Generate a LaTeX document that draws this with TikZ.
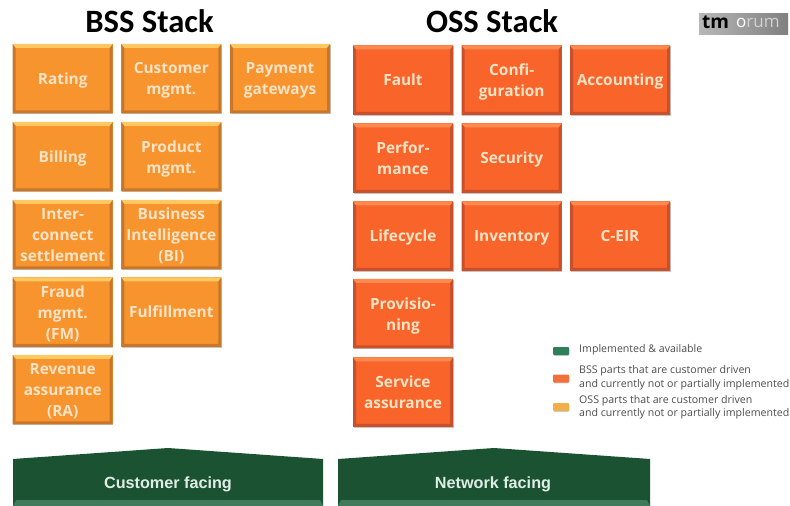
\documentclass[tikz,border=0pt]{standalone}
\usepackage{fontspec}
\setmainfont{Open Sans}
\newfontfamily\titlefont{Carlito}
\newfontfamily\facefont{Liberation Sans}
\usetikzlibrary{shadows}
\definecolor{bssfill}{HTML}{F7942E}
\definecolor{bsstop}{HTML}{FFC860}
\definecolor{bssside}{HTML}{C9762A}
\definecolor{ossfill}{HTML}{F9642A}
\definecolor{osstop}{HTML}{FF8A50}
\definecolor{ossside}{HTML}{C9502A}
\definecolor{facefill}{HTML}{1A5232}
\definecolor{faceband}{HTML}{3F7A5C}
\definecolor{boxtext}{HTML}{FCE3C5}
\definecolor{facetext}{HTML}{E0EDE5}
\definecolor{keygreenfill}{HTML}{2E7D5B}
\definecolor{keyredfill}{HTML}{F4703A}
\definecolor{keyorangefill}{HTML}{EFB04C}
\newcommand{\lowline}[1]{\raisebox{-2.3pt}[\height][\depth]{#1}}
\tikzset{
    stackbox/.style n args={3}{minimum width=100pt, minimum height=69.5pt, inner sep=0pt,
        fill=#1, align=center, text=boxtext,
        font=\fontsize{15.4}{21}\selectfont\bfseries,
        execute at begin node={\rule{0pt}{15.5pt}},
        execute at end node={\rule[-4pt]{0pt}{4pt}},
        drop shadow={shadow xshift=0.6pt, shadow yshift=-1pt, opacity=0.45},
        path picture={
            \fill[#3] (path picture bounding box.north west) -- (path picture bounding box.south west)
                -- ++(3pt,3pt) |- ([shift={(3pt,-4pt)}]path picture bounding box.north west) -- cycle;
            \fill[#3] (path picture bounding box.north east) -- (path picture bounding box.south east)
                -- ++(-3pt,3pt) |- ([shift={(-3pt,-4pt)}]path picture bounding box.north east) -- cycle;
            \fill[#3] (path picture bounding box.south west) -- ++(3pt,3pt) -| ([shift={(-3pt,3pt)}]path picture bounding box.south east)
                -- (path picture bounding box.south east) -- cycle;
            \fill[#2] (path picture bounding box.north west) -- ([shift={(3pt,-4pt)}]path picture bounding box.north west)
                -- ([shift={(-3pt,-4pt)}]path picture bounding box.north east) -- (path picture bounding box.north east) -- cycle;
        }},
    bssbox/.style={stackbox={bssfill}{bsstop}{bssside}},
    ossbox/.style={stackbox={ossfill}{osstop}{ossside}},
    stacktitle/.style={font=\titlefont\fontsize{32.6}{32.6}\selectfont\bfseries},
    facehouse/.style={fill=facefill},
    facelabel/.style={text=facetext, font=\facefont\fontsize{16.2}{18}\selectfont\bfseries},
    legendkey/.style={minimum width=16pt, minimum height=8pt, inner sep=0pt, rounded corners=1pt,
        drop shadow={shadow xshift=0.4pt, shadow yshift=-0.8pt, opacity=0.4}},
    legendtext/.style={anchor=west, inner sep=0pt, align=left, text=black!70,
        font=\fontsize{10.6}{13.5}\selectfont}
}
\begin{document}
\begin{tikzpicture}[x=1pt, y=-1pt]
    \useasboundingbox (0,0) rectangle (790,506);
    % Titles of the two stacks
    \node[stacktitle] (bsstitle) at (149.5,21) {BSS Stack};
    \node[stacktitle] (osstitle) at (492,21) {OSS Stack};

    % Draw the logo
    \node[left color=black!28, right color=black!50, minimum width=89pt, minimum height=21pt, inner sep=0pt] (logobar) at (743.5,24) {};
    \node[anchor=west, inner sep=0pt, font=\fontsize{19}{19}\selectfont\bfseries] (logotm) at (702,22.5) {tm};
    \node[anchor=west, inner sep=0pt, text=black!18, font=\fontsize{17}{17}\selectfont] (logorum) at (736,22.5) {\textcolor{white}{o}rum};

    % Draw the BSS boxes
    \node[bssbox] (rating) at (62.7,78.5) {Rating};
    \node[bssbox] (customer) at (171.3,78.5) {\lowline{Customer}\\\lowline{mgmt.}};
    \node[bssbox] (payment) at (280,78.5) {\lowline{Payment}\\\lowline{gateways}};
    \node[bssbox] (billing) at (62.7,156.5) {Billing};
    \node[bssbox] (product) at (171.3,156.5) {\lowline{Product}\\\lowline{mgmt.}};
    \node[bssbox] (settlement) at (62.7,234.5) {\lowline{Inter-}\\\lowline{connect}\\\lowline{settlement}};
    \node[bssbox] (intelligence) at (171.3,234.5) {\lowline{Business}\\\lowline{Intelligence}\\\lowline{(BI)}};
    \node[bssbox] (fraud) at (62.7,312) {\lowline{Fraud}\\\lowline{mgmt.}\\\lowline{(FM)}};
    \node[bssbox] (fulfillment) at (171.3,312) {Fulfillment};
    \node[bssbox] (revenue) at (62.7,389.5) {\lowline{Revenue}\\\lowline{assurance}\\\lowline{(RA)}};

    % Draw the OSS boxes
    \node[ossbox] (fault) at (403,80) {Fault};
    \node[ossbox] (configuration) at (511.7,80) {\lowline{Confi-}\\\lowline{guration}};
    \node[ossbox] (accounting) at (620,80) {Accounting};
    \node[ossbox] (performance) at (403,158) {\lowline{Perfor-}\\\lowline{mance}};
    \node[ossbox] (security) at (511.7,158) {Security};
    \node[ossbox] (lifecycle) at (403,236) {Lifecycle};
    \node[ossbox] (inventory) at (511.7,236) {Inventory};
    \node[ossbox] (ceir) at (620,236) {C-EIR};
    \node[ossbox] (provisioning) at (403,313.5) {\lowline{Provisio-}\\\lowline{ning}};
    \node[ossbox] (assurance) at (403,392) {\lowline{Service}\\\lowline{assurance}};

    % Draw the two green houses
    \fill[facehouse] (13,459) -- (168,448) -- (323,459) -- (323,506) -- (13,506) -- cycle;
    \fill[faceband] (16,500) -- (320,500) -- (323,506) -- (13,506) -- cycle;
    \fill[facehouse] (338,459) -- (494,448) -- (650,459) -- (650,506) -- (338,506) -- cycle;
    \fill[faceband] (341,500) -- (647,500) -- (650,506) -- (338,506) -- cycle;
    \node[facelabel] (customerfacing) at (168,484) {Customer facing};
    \node[facelabel] (networkfacing) at (493,484) {Network facing};

    % Draw the legend
    \node[legendkey, fill=keygreenfill] (keygreen) at (561,351) {};
    \node[legendkey, fill=keyredfill] (keyred) at (561,378.5) {};
    \node[legendkey, fill=keyorangefill] (keyorange) at (561,407) {};
    \node[legendtext] (textgreen) at (579,349.5) {Implemented \& available};
    \node[legendtext] (textred) at (579,377.5) {BSS parts that are customer driven\\and currently not or partially implemented};
    \node[legendtext] (textorange) at (579,407) {OSS parts that are customer driven\\and currently not or partially implemented};
\end{tikzpicture}
\end{document}
